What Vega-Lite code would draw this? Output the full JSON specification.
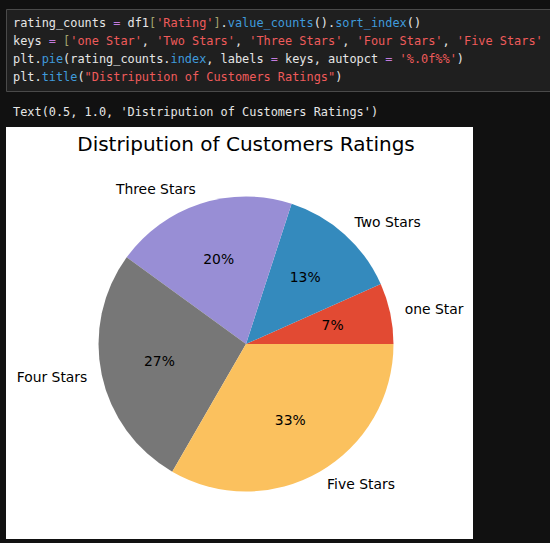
{
  "$schema": "https://vega.github.io/schema/vega-lite/v6.json",
  "background": "#111111",
  "padding": {"left": 5, "top": 8, "right": 0, "bottom": 6},
  "spacing": 0,
  "config": {"view": {"stroke": null}},
  "resolve": {"scale": {"x": "independent", "y": "independent"}},
  "vconcat": [
    {
      "width": 545,
      "height": 82,
      "view": {"fill": "#1f1f1f", "stroke": "#4a4a4a", "strokeWidth": 1},
      "data": {"values": [
        {"line": 1,
         "w": "rating_counts\u00a0\u00a0\u00a0df1\u00a0\u00a0\u00a0\u00a0\u00a0\u00a0\u00a0\u00a0\u00a0\u00a0.\u00a0\u00a0\u00a0\u00a0\u00a0\u00a0\u00a0\u00a0\u00a0\u00a0\u00a0\u00a0().\u00a0\u00a0\u00a0\u00a0\u00a0\u00a0\u00a0\u00a0\u00a0\u00a0()",
         "p": "\u200b\u00a0\u00a0\u00a0\u00a0\u00a0\u00a0\u00a0\u00a0\u00a0\u00a0\u00a0\u00a0\u00a0\u00a0=",
         "y": "\u200b\u00a0\u00a0\u00a0\u00a0\u00a0\u00a0\u00a0\u00a0\u00a0\u00a0\u00a0\u00a0\u00a0\u00a0\u00a0\u00a0\u00a0\u00a0\u00a0[\u00a0\u00a0\u00a0\u00a0\u00a0\u00a0\u00a0\u00a0]",
         "r": "\u200b\u00a0\u00a0\u00a0\u00a0\u00a0\u00a0\u00a0\u00a0\u00a0\u00a0\u00a0\u00a0\u00a0\u00a0\u00a0\u00a0\u00a0\u00a0\u00a0\u00a0'Rating'",
         "b": "\u200b\u00a0\u00a0\u00a0\u00a0\u00a0\u00a0\u00a0\u00a0\u00a0\u00a0\u00a0\u00a0\u00a0\u00a0\u00a0\u00a0\u00a0\u00a0\u00a0\u00a0\u00a0\u00a0\u00a0\u00a0\u00a0\u00a0\u00a0\u00a0\u00a0\u00a0value_counts\u00a0\u00a0\u00a0sort_index"},
        {"line": 2,
         "w": "keys\u00a0\u00a0\u00a0\u00a0\u00a0\u00a0\u00a0\u00a0\u00a0\u00a0\u00a0\u00a0\u00a0\u00a0,\u00a0\u00a0\u00a0\u00a0\u00a0\u00a0\u00a0\u00a0\u00a0\u00a0\u00a0\u00a0,\u00a0\u00a0\u00a0\u00a0\u00a0\u00a0\u00a0\u00a0\u00a0\u00a0\u00a0\u00a0\u00a0\u00a0,\u00a0\u00a0\u00a0\u00a0\u00a0\u00a0\u00a0\u00a0\u00a0\u00a0\u00a0\u00a0\u00a0,",
         "p": "\u200b\u00a0\u00a0\u00a0\u00a0\u00a0=",
         "y": "\u200b\u00a0\u00a0\u00a0\u00a0\u00a0\u00a0\u00a0[\u00a0\u00a0\u00a0\u00a0\u00a0\u00a0\u00a0\u00a0\u00a0\u00a0\u00a0\u00a0\u00a0\u00a0\u00a0\u00a0\u00a0\u00a0\u00a0\u00a0\u00a0\u00a0\u00a0\u00a0\u00a0\u00a0\u00a0\u00a0\u00a0\u00a0\u00a0\u00a0\u00a0\u00a0\u00a0\u00a0\u00a0\u00a0\u00a0\u00a0\u00a0\u00a0\u00a0\u00a0\u00a0\u00a0\u00a0\u00a0\u00a0\u00a0\u00a0\u00a0\u00a0\u00a0\u00a0\u00a0\u00a0\u00a0\u00a0\u00a0\u00a0\u00a0\u00a0\u00a0\u00a0\u00a0\u00a0\u00a0\u00a0\u00a0\u00a0\u00a0]",
         "r": "\u200b\u00a0\u00a0\u00a0\u00a0\u00a0\u00a0\u00a0\u00a0'one Star'\u00a0\u00a0'Two Stars'\u00a0\u00a0'Three Stars'\u00a0\u00a0'Four Stars'\u00a0\u00a0'Five Stars'",
         "b": ""},
        {"line": 3,
         "w": "plt.\u00a0\u00a0\u00a0(rating_counts.\u00a0\u00a0\u00a0\u00a0\u00a0, labels\u00a0\u00a0\u00a0keys, autopct\u00a0\u00a0\u00a0\u00a0\u00a0\u00a0\u00a0\u00a0\u00a0\u00a0\u00a0)",
         "p": "\u200b\u00a0\u00a0\u00a0\u00a0\u00a0\u00a0\u00a0\u00a0\u00a0\u00a0\u00a0\u00a0\u00a0\u00a0\u00a0\u00a0\u00a0\u00a0\u00a0\u00a0\u00a0\u00a0\u00a0\u00a0\u00a0\u00a0\u00a0\u00a0\u00a0\u00a0\u00a0\u00a0\u00a0\u00a0\u00a0\u00a0=\u00a0\u00a0\u00a0\u00a0\u00a0\u00a0\u00a0\u00a0\u00a0\u00a0\u00a0\u00a0\u00a0\u00a0\u00a0=",
         "y": "",
         "r": "\u200b\u00a0\u00a0\u00a0\u00a0\u00a0\u00a0\u00a0\u00a0\u00a0\u00a0\u00a0\u00a0\u00a0\u00a0\u00a0\u00a0\u00a0\u00a0\u00a0\u00a0\u00a0\u00a0\u00a0\u00a0\u00a0\u00a0\u00a0\u00a0\u00a0\u00a0\u00a0\u00a0\u00a0\u00a0\u00a0\u00a0\u00a0\u00a0\u00a0\u00a0\u00a0\u00a0\u00a0\u00a0\u00a0\u00a0\u00a0\u00a0\u00a0\u00a0\u00a0\u00a0\u00a0\u00a0'%.0f%%'",
         "b": "\u200b\u00a0\u00a0\u00a0\u00a0pie\u00a0\u00a0\u00a0\u00a0\u00a0\u00a0\u00a0\u00a0\u00a0\u00a0\u00a0\u00a0\u00a0\u00a0\u00a0index"},
        {"line": 4,
         "w": "plt.\u00a0\u00a0\u00a0\u00a0\u00a0(\u00a0\u00a0\u00a0\u00a0\u00a0\u00a0\u00a0\u00a0\u00a0\u00a0\u00a0\u00a0\u00a0\u00a0\u00a0\u00a0\u00a0\u00a0\u00a0\u00a0\u00a0\u00a0\u00a0\u00a0\u00a0\u00a0\u00a0\u00a0\u00a0\u00a0\u00a0\u00a0\u00a0\u00a0\u00a0)",
         "p": "",
         "y": "",
         "r": "\u200b\u00a0\u00a0\u00a0\u00a0\u00a0\u00a0\u00a0\u00a0\u00a0\u00a0\"Distripution of Customers Ratings\"",
         "b": "\u200b\u00a0\u00a0\u00a0\u00a0title"}
      ]},
      "encoding": {
        "x": {"datum": 0, "type": "quantitative", "scale": {"domain": [-7, 538], "nice": false, "zero": false}, "axis": null},
        "y": {"field": "line", "type": "quantitative", "scale": {"domain": [0.2222, 4.7778], "nice": false, "zero": false, "reverse": true}, "axis": null}
      },
      "layer": [
        {"mark": {"type": "text", "align": "left", "baseline": "middle", "font": "DejaVu Sans Mono", "fontSize": 11.9, "color": "#e6e6e6"}, "encoding": {"text": {"field": "w"}}},
        {"mark": {"type": "text", "align": "left", "baseline": "middle", "font": "DejaVu Sans Mono", "fontSize": 11.9, "color": "#c27bdc"}, "encoding": {"text": {"field": "p"}}},
        {"mark": {"type": "text", "align": "left", "baseline": "middle", "font": "DejaVu Sans Mono", "fontSize": 11.9, "color": "#a3a36f"}, "encoding": {"text": {"field": "y"}}},
        {"mark": {"type": "text", "align": "left", "baseline": "middle", "font": "DejaVu Sans Mono", "fontSize": 11.9, "color": "#ef5b5b"}, "encoding": {"text": {"field": "r"}}},
        {"mark": {"type": "text", "align": "left", "baseline": "middle", "font": "DejaVu Sans Mono", "fontSize": 11.9, "color": "#3f9bdc"}, "encoding": {"text": {"field": "b"}}}
      ]
    },
    {
      "width": 545,
      "height": 35,
      "data": {"values": [{"out": "Text(0.5, 1.0, 'Distripution of Customers Ratings')"}]},
      "mark": {"type": "text", "align": "left", "baseline": "middle", "font": "DejaVu Sans Mono", "fontSize": 11.9, "color": "#e6e6e6", "dy": 2.5},
      "encoding": {
        "x": {"datum": 0, "type": "quantitative", "scale": {"domain": [-7, 538], "nice": false, "zero": false}, "axis": null},
        "y": {"datum": 0, "type": "quantitative", "scale": {"domain": [-1, 1], "nice": false, "zero": false}, "axis": null},
        "text": {"field": "out"}
      }
    },
    {
      "width": 467,
      "height": 412,
      "view": {"fill": "white", "stroke": null},
      "encoding": {
        "x": {"datum": 0, "type": "quantitative", "scale": {"domain": [-1.6271, 1.539], "nice": false, "zero": false}, "axis": null},
        "y": {"datum": 0, "type": "quantitative", "scale": {"domain": [-1.322, 1.4712], "nice": false, "zero": false}, "axis": null}
      },
      "layer": [
        {
          "data": {"name": "ratings", "values": [
            {"key": "one Star", "count": 1, "pct": "7%", "idx": 1},
            {"key": "Two Stars", "count": 2, "pct": "13%", "idx": 2},
            {"key": "Three Stars", "count": 3, "pct": "20%", "idx": 3},
            {"key": "Four Stars", "count": 4, "pct": "27%", "idx": 4},
            {"key": "Five Stars", "count": 5, "pct": "33%", "idx": 5}
          ]},
          "encoding": {
            "theta": {"field": "count", "type": "quantitative", "stack": true, "scale": {"range": [1.5707963, -4.712389]}},
            "order": {"field": "idx", "type": "quantitative"}
          },
          "layer": [
            {"mark": {"type": "arc", "radius": 147.5},
             "encoding": {"color": {"field": "key", "type": "nominal", "legend": null,
               "scale": {"domain": ["one Star", "Two Stars", "Three Stars", "Four Stars", "Five Stars"], "range": ["#E24A33", "#348ABD", "#988ED5", "#777777", "#FBC15E"]}}}},
            {"mark": {"type": "text", "radius": 88.5, "align": "center", "baseline": "middle", "font": "DejaVu Sans", "fontSize": 13.9, "color": "black"},
             "encoding": {"text": {"field": "pct"}}},
            {"mark": {"type": "text", "radius": 162.25, "align": "left", "baseline": "middle", "font": "DejaVu Sans", "fontSize": 13.9, "color": "black"},
             "encoding": {"text": {"condition": {"test": "datum.key === 'Three Stars' || datum.key === 'Four Stars'", "value": ""}, "field": "key"}}},
            {"mark": {"type": "text", "radius": 162.25, "align": "right", "baseline": "middle", "font": "DejaVu Sans", "fontSize": 13.9, "color": "black"},
             "encoding": {"text": {"condition": {"test": "datum.key === 'Three Stars' || datum.key === 'Four Stars'", "field": "key"}, "value": ""}}}
          ]
        },
        {
          "data": {"values": [{"title": "Distripution of Customers Ratings"}]},
          "mark": {"type": "text", "align": "center", "baseline": "alphabetic", "dy": -8.3, "font": "DejaVu Sans", "fontSize": 20, "color": "black"},
          "encoding": {
            "y": {"datum": 1.25, "type": "quantitative"},
            "text": {"field": "title"}
          }
        }
      ]
    }
  ]
}
